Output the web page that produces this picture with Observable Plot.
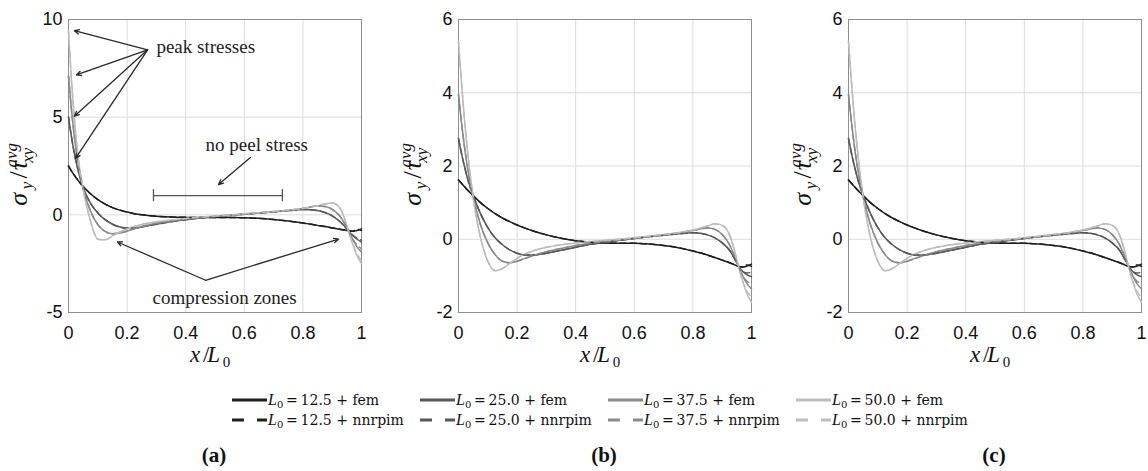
<!DOCTYPE html>
<html><head><meta charset="utf-8">
<script src="https://cdn.jsdelivr.net/npm/d3@7"></script>
<script src="https://cdn.jsdelivr.net/npm/@observablehq/plot@0.6"></script>
<style>
html,body{margin:0;padding:0;background:#fff}
body{width:1148px;height:471px;position:relative;overflow:hidden;font-family:"Liberation Sans",Arial,sans-serif}
.panel{position:absolute;top:0;width:390px;height:370px}
.lg{position:absolute;height:20px;display:flex;align-items:center;font-family:"DejaVu Serif",serif;font-size:14px;color:#111;white-space:nowrap}
.lg svg{flex:none}
.lg sub{font-size:10px;vertical-align:-3px;line-height:0}
.plabel{position:absolute;top:443px;width:60px;margin-left:-30px;text-align:center;font-family:"Liberation Serif",serif;font-weight:bold;font-size:21px;color:#111}
</style></head><body>
<div id="pa" class="panel" style="left:0px"></div>
<div id="pb" class="panel" style="left:390px"></div>
<div id="pc" class="panel" style="left:780px"></div>
<div id="legend"></div>
<div class="plabel" style="left:214px">(a)</div>
<div class="plabel" style="left:604px">(b)</div>
<div class="plabel" style="left:994px">(c)</div>
<script>
// ---------------- data ----------------
const xs = [0, 0.01, 0.02, 0.035, 0.05, 0.075, 0.1, 0.125, 0.15, 0.175, 0.2, 0.225, 0.25, 0.3, 0.35, 0.4, 0.45, 0.5, 0.55, 0.6, 0.65, 0.7, 0.75, 0.8, 0.85, 0.875, 0.9, 0.925, 0.94, 0.955, 0.97, 0.985, 1.0];

// panel (a)
const a125 = [2.5, 2.25, 2.02, 1.72, 1.45, 1.08, 0.78, 0.55, 0.37, 0.24, 0.14, 0.06, 0.0, -0.07, -0.11, -0.13, -0.14, -0.14, -0.14, -0.15, -0.18, -0.24, -0.32, -0.42, -0.54, -0.6, -0.67, -0.74, -0.78, -0.82, -0.84, -0.8, -0.72];
const a250 = [5.0, 4.0, 3.15, 2.15, 1.4, 0.6, 0.1, -0.25, -0.48, -0.62, -0.68, -0.68, -0.62, -0.48, -0.35, -0.25, -0.16, -0.09, -0.03, 0.03, 0.09, 0.15, 0.21, 0.27, 0.22, 0.12, -0.05, -0.33, -0.55, -0.8, -1.05, -1.25, -1.4];
const a375 = [7.1, 5.4, 4.0, 2.45, 1.35, 0.2, -0.5, -0.85, -0.97, -0.93, -0.83, -0.71, -0.6, -0.43, -0.31, -0.22, -0.14, -0.08, -0.02, 0.04, 0.1, 0.16, 0.23, 0.32, 0.45, 0.43, 0.28, -0.05, -0.38, -0.8, -1.25, -1.65, -1.9];
const a500 = [9.4, 6.9, 4.9, 2.7, 1.3, -0.3, -1.25, -1.28, -1.08, -0.88, -0.72, -0.6, -0.5, -0.36, -0.27, -0.19, -0.12, -0.06, -0.01, 0.05, 0.11, 0.17, 0.24, 0.33, 0.47, 0.56, 0.6, 0.38, -0.1, -0.8, -1.5, -2.1, -2.5];
// nnrpim end values (last two samples) for panel (a)
const a125n = [-0.75, -0.8];
const a250n = [-1.2, -1.3];
const a375n = [-1.55, -1.75];
const a500n = [-2.0, -2.35];

// panels (b) and (c)
const b125 = [1.62, 1.53, 1.44, 1.31, 1.19, 1.0, 0.84, 0.7, 0.58, 0.48, 0.39, 0.31, 0.24, 0.12, 0.03, -0.04, -0.08, -0.1, -0.11, -0.11, -0.13, -0.17, -0.23, -0.32, -0.43, -0.5, -0.57, -0.64, -0.69, -0.74, -0.76, -0.73, -0.68];
const b250 = [2.75, 2.35, 2.0, 1.55, 1.2, 0.7, 0.32, 0.04, -0.15, -0.29, -0.38, -0.43, -0.43, -0.38, -0.3, -0.22, -0.14, -0.08, -0.03, 0.02, 0.07, 0.11, 0.15, 0.18, 0.12, 0.04, -0.1, -0.3, -0.5, -0.72, -0.88, -0.97, -1.02];
const b375 = [3.95, 3.2, 2.55, 1.75, 1.17, 0.4, -0.1, -0.42, -0.6, -0.64, -0.6, -0.53, -0.46, -0.34, -0.25, -0.17, -0.11, -0.06, -0.02, 0.03, 0.07, 0.12, 0.17, 0.24, 0.31, 0.27, 0.13, -0.15, -0.42, -0.72, -1.0, -1.22, -1.35];
const b500 = [5.4, 4.3, 3.3, 2.1, 1.15, 0.05, -0.6, -0.86, -0.8, -0.66, -0.52, -0.41, -0.33, -0.22, -0.15, -0.1, -0.06, -0.03, 0.0, 0.04, 0.08, 0.13, 0.18, 0.25, 0.36, 0.42, 0.38, 0.12, -0.25, -0.72, -1.15, -1.5, -1.72];
const b125n = [-0.7, -0.74];
const b250n = [-0.92, -0.9];
const b375n = [-1.15, -1.2];
const b500n = [-1.42, -1.6];

const seriesNames = ["12.5", "25.0", "37.5", "50.0"];
const methods = ["fem", "nnrpim"];
const colors = ["#1e1e1e", "#585858", "#8a8a8a", "#bdbdbd"];
const xTicks = [0, 0.2, 0.4, 0.6, 0.8, 1];
const yTicksA = [-5, 0, 5, 10];
const yTicksB = [-2, 0, 2, 4, 6];

// annotations (panel a)
const peakLabel = [{x: 0.30, y: 8.6, text: "peak stresses"}];
const peakArrows = [
  {x1: 0.27, y1: 8.45, x2: 0.02, y2: 9.43},
  {x1: 0.27, y1: 8.45, x2: 0.027, y2: 7.16},
  {x1: 0.27, y1: 8.45, x2: 0.02, y2: 5.05},
  {x1: 0.27, y1: 8.45, x2: 0.024, y2: 2.89}
];
const peelLabel = [{x: 0.468, y: 3.6, text: "no peel stress"}];
const peelArrow = [{x1: 0.621, y1: 2.94, x2: 0.512, y2: 1.55}];
const peelBracket = [{x1: 0.29, x2: 0.73, y: 0.98}];
const peelBracketEnds = [{x: 0.29, y1: 0.67, y2: 1.29}, {x: 0.73, y1: 0.67, y2: 1.29}];
const compLabel = [{x: 0.287, y: -4.23, text: "compression zones"}];
const compArrows = [
  {x1: 0.468, y1: -3.35, x2: 0.167, y2: -1.39},
  {x1: 0.468, y1: -3.35, x2: 0.922, y2: -1.24}
];

// ---------------- helpers ----------------
const SERIF = "'Liberation Serif', 'Times New Roman', serif";

function buildRows(femArrays, endArrays) {
  const rows = [];
  femArrays.forEach((arr, k) => {
    arr.forEach((v, i) => rows.push({x: xs[i], y: v, s: seriesNames[k], m: "fem"}));
    const n = arr.slice(0, arr.length - endArrays[k].length).concat(endArrays[k]);
    n.forEach((v, i) => rows.push({x: xs[i], y: v, s: seriesNames[k], m: "nnrpim"}));
  });
  return rows;
}

function mathText(svg, cx, cy, rotate, parts) {
  const outer = d3.select(svg).append("g").attr("transform", `translate(${cx},${cy}) rotate(${rotate})`);
  const g = outer.append("g");
  let x = 0, held = 0;
  for (const p of parts) {
    const el = g.append("text")
      .attr("x", x).attr("y", p.dy || 0)
      .style("font-family", SERIF)
      .style("font-size", p.size + "px")
      .style("font-style", p.it ? "italic" : "normal")
      .attr("fill", "#111")
      .text(p.t);
    const w = el.node().getComputedTextLength();
    if (p.hold) { held = Math.max(held, w); continue; }
    x += Math.max(w, held) + (p.gap || 0);
    held = 0;
  }
  g.attr("transform", `translate(${-x / 2},${7})`);
}

function panel(id, ydomain, yticks, rows, extraMarks, ylabX) {
  const el = document.getElementById(id);
  const plot = Plot.plot({
    width: 390, height: 370,
    marginLeft: 68, marginRight: 29, marginTop: 19, marginBottom: 58,
    style: {background: "transparent", fontFamily: "'Liberation Sans', Arial, sans-serif", fontSize: "18px", color: "#111", overflow: "visible"},
    x: {domain: [0, 1]},
    y: {domain: ydomain},
    color: {domain: seriesNames, range: colors},
    marks: [
      Plot.gridX(xTicks, {stroke: "#dcdcdc", strokeOpacity: 1}),
      Plot.gridY(yticks, {stroke: "#dcdcdc", strokeOpacity: 1}),
      Plot.frame({stroke: "#8f8f8f"}),
      Plot.line(rows.filter(d => d.m === "fem"), {x: "x", y: "y", z: "s", stroke: "s", strokeWidth: 1.5, curve: "monotone-x"}),
      Plot.line(rows.filter(d => d.m === "nnrpim"), {x: "x", y: "y", z: "s", stroke: "s", strokeWidth: 1.5, strokeDasharray: "6,4", curve: "monotone-x"}),
      ...extraMarks,
      Plot.axisX(xTicks, {tickSize: 0, tickPadding: 14, tickFormat: d => String(d), label: null, fontSize: 18}),
      Plot.axisY(yticks, {tickSize: 0, tickPadding: 6, tickFormat: d => String(d), label: null, fontSize: 18})
    ]
  });
  el.appendChild(plot);
  // promote font-family attributes to inline styles so they win over inherited CSS
  d3.select(plot).selectAll("[font-family]").each(function () {
    this.style.fontFamily = this.getAttribute("font-family");
  });
  // y label: sigma_y / tau_xy^avg
  mathText(plot, ylabX, 165, -90, [
    {t: "σ", it: true, size: 26, gap: 1},
    {t: "y", it: true, size: 17, dy: 5, gap: 3},
    {t: "/", size: 26, gap: 2},
    {t: "τ", it: true, size: 26, gap: 1},
    {t: "avg", it: true, size: 17, dy: -10, hold: true},
    {t: "xy", it: true, size: 17, dy: 6}
  ]);
  // x label: x / L_0
  mathText(plot, 214.5, 355, 0, [
    {t: "x", it: true, size: 23, gap: 1},
    {t: "/", size: 23, gap: 1},
    {t: "L", it: true, size: 23},
    {t: "0", size: 15, dy: 5}
  ]);
}

const annoStroke = "#2a2a2a";
const annoMarks = [
  Plot.arrow(peakArrows, {x1: "x1", y1: "y1", x2: "x2", y2: "y2", stroke: annoStroke, strokeWidth: 1.3, headLength: 6, headAngle: 50}),
  Plot.text(peakLabel, {x: "x", y: "y", text: "text", textAnchor: "start", fontFamily: SERIF, fontSize: 19, fill: "#222"}),
  Plot.arrow(peelArrow, {x1: "x1", y1: "y1", x2: "x2", y2: "y2", stroke: annoStroke, strokeWidth: 1.3, headLength: 6, headAngle: 50}),
  Plot.text(peelLabel, {x: "x", y: "y", text: "text", textAnchor: "start", fontFamily: SERIF, fontSize: 19, fill: "#222"}),
  Plot.ruleY(peelBracket, {x1: "x1", x2: "x2", y: "y", stroke: "#555", strokeWidth: 1.3}),
  Plot.ruleX(peelBracketEnds, {x: "x", y1: "y1", y2: "y2", stroke: "#555", strokeWidth: 1.3}),
  Plot.arrow(compArrows, {x1: "x1", y1: "y1", x2: "x2", y2: "y2", stroke: annoStroke, strokeWidth: 1.3, headLength: 6, headAngle: 50}),
  Plot.text(compLabel, {x: "x", y: "y", text: "text", textAnchor: "start", fontFamily: SERIF, fontSize: 19, fill: "#222"})
];

panel("pa", [-5, 10], yTicksA, buildRows([a125, a250, a375, a500], [a125n, a250n, a375n, a500n]), annoMarks, 20);
panel("pb", [-2, 6], yTicksB, buildRows([b125, b250, b375, b500], [b125n, b250n, b375n, b500n]), [], 24);
panel("pc", [-2, 6], yTicksB, buildRows([b125, b250, b375, b500], [b125n, b250n, b375n, b500n]), [], 24);

// ---------------- legend ----------------
const legCols = [232, 420, 608, 796];
const legRows = [390, 410];
const legend = document.getElementById("legend");
methods.forEach((m, r) => {
  seriesNames.forEach((s, c) => {
    const div = document.createElement("div");
    div.className = "lg";
    div.style.left = legCols[c] + "px";
    div.style.top = legRows[r] + "px";
    const dash = m === "nnrpim" ? ' stroke-dasharray="12,13"' : "";
    div.innerHTML = `<svg width="35" height="20"><line x1="0" y1="10" x2="35" y2="10" stroke="${colors[c]}" stroke-width="3"${dash}/></svg>` +
      `<span style="margin-left:1px"><i style="font-family:'Liberation Serif',serif;font-size:16px">L</i><sub>0</sub>\u2009=\u200912.5 + ${m}</span>`.replace("12.5", s);
    legend.appendChild(div);
  });
});
</script>
</body></html>
